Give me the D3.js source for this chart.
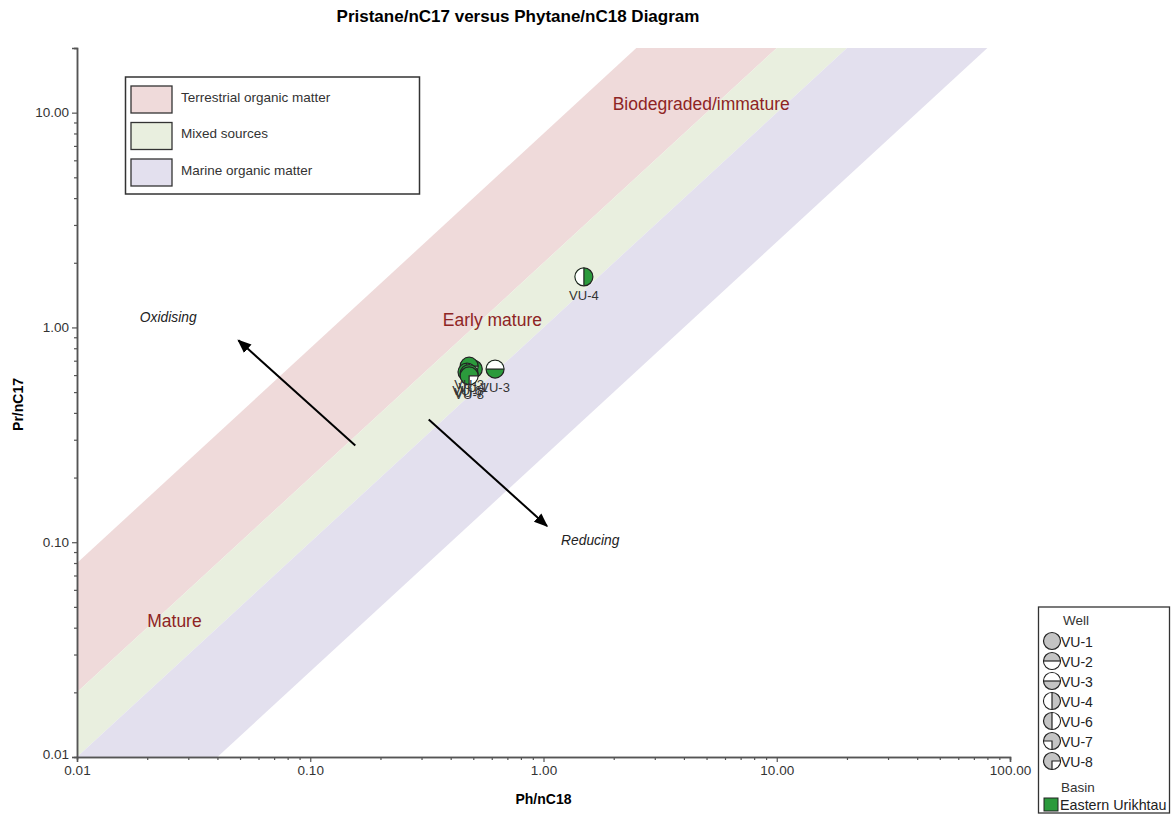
<!DOCTYPE html>
<html>
<head>
<meta charset="utf-8">
<script src="https://cdn.jsdelivr.net/npm/d3@7"></script>
<style>
  body { margin: 0; background: #fff; }
  svg text { font-family: Arial, "Liberation Sans", sans-serif; }
</style>
</head>
<body>
<svg id="chart" width="1175" height="824"></svg>
<script>
// Source bands (Pr/nC17 = k * Ph/nC18 lines)
const bandNames = ["Terrestrial organic matter", "Mixed sources", "Marine organic matter"];
const bandLow = [2, 1, 0.25];
const bandHigh = [8, 2, 1];
const bandColors = ["#efdada", "#e9efdf", "#e3e0ee"];

// Samples
const wells = ["VU-1", "VU-2", "VU-3", "VU-4", "VU-6", "VU-7", "VU-8"];
const phNC18 = [0.50, 0.48, 0.62, 1.49, 0.47, 0.48, 0.48];
const prNC17 = [0.64, 0.66, 0.64, 1.72, 0.62, 0.61, 0.595];
const wellSymbols = ["full", "top", "bottom", "right", "left", "noBL", "noBR"];
const basinName = "Eastern Urikhtau";
const basinColor = "#2b9a3c";

// Tick labels
const xMajor = [0.01, 0.1, 1, 10, 100];
const yMajor = [0.01, 0.1, 1, 10];

// Region labels and arrows
const regionLabels = ["Biodegraded/immature", "Early mature", "Mature"];
const regionX = [1.98, 0.37, 0.02];
const regionY = [10.3, 1.02, 0.0403];
const arrowNames = ["Oxidising", "Reducing"];
const arrowFrom = [[0.156, 0.282], [0.322, 0.373]];
const arrowTo = [[0.0492, 0.871], [1.035, 0.119]];
const arrowTextX = [0.0186, 1.19];
const arrowTextY = [1.06, 0.097];

const svg = d3.select("#chart");
const margin = {top: 48, right: 165, bottom: 67, left: 77};
const width = +svg.attr("width"), height = +svg.attr("height");

const x = d3.scaleLog().domain([0.01, 100]).range([margin.left, width - margin.right]);
const y = d3.scaleLog().domain([0.01, 20]).range([height - margin.bottom, margin.top]);

svg.append("defs").append("clipPath").attr("id", "plotclip")
  .append("rect")
  .attr("x", margin.left).attr("y", margin.top)
  .attr("width", x(100) - margin.left).attr("height", y(0.01) - margin.top);

// bands
const bandG = svg.append("g").attr("clip-path", "url(#plotclip)");
const xs = x.domain();
bandNames.forEach((name, i) => {
  const pts = [
    [xs[0], bandHigh[i] * xs[0]], [xs[1], bandHigh[i] * xs[1]],
    [xs[1], bandLow[i] * xs[1]], [xs[0], bandLow[i] * xs[0]]
  ];
  bandG.append("path")
    .attr("d", d3.line().x(d => x(d[0])).y(d => y(d[1]))(pts) + "Z")
    .attr("fill", bandColors[i]);
});

// axes
function minorTicks(lo, hi) {
  const out = [];
  for (let p = Math.floor(Math.log10(lo)); p < Math.ceil(Math.log10(hi)); p++) {
    for (let m = 2; m <= 9; m++) {
      const v = m * Math.pow(10, p);
      if (v > lo && v <= hi) out.push(v);
    }
  }
  return out;
}
const fmt = d3.format(".2f");

const xAxisMinor = svg.append("g")
  .attr("transform", `translate(0,${y(0.01)})`)
  .call(d3.axisBottom(x).tickValues(minorTicks(0.01, 100)).tickSize(3).tickFormat(""));
const xAxis = svg.append("g")
  .attr("transform", `translate(0,${y(0.01)})`)
  .call(d3.axisBottom(x).tickValues(xMajor).tickSize(5).tickPadding(3).tickFormat(fmt));
const yAxisMinor = svg.append("g")
  .attr("transform", `translate(${x(0.01)},0)`)
  .call(d3.axisLeft(y).tickValues(minorTicks(0.01, 20)).tickSize(3).tickFormat(""));
const yAxis = svg.append("g")
  .attr("transform", `translate(${x(0.01)},0)`)
  .call(d3.axisLeft(y).tickValues(yMajor).tickSize(5).tickPadding(3).tickFormat(fmt));

[xAxis, yAxis, xAxisMinor, yAxisMinor].forEach(g => {
  g.select(".domain").attr("stroke", "#555").attr("stroke-width", 1.5);
  g.selectAll(".tick line").attr("stroke", "#555").attr("stroke-width", 1.2);
  g.selectAll(".tick text").attr("font-size", 13.5).attr("fill", "#333")
    .style("font-family", "Arial, 'Liberation Sans', sans-serif");
});
yAxis.selectAll(".tick text").filter(d => d === 0.01).attr("dy", "0.1em");

// title and axis titles
svg.append("text")
  .attr("x", 518).attr("y", 22)
  .attr("text-anchor", "middle")
  .attr("font-size", 17).attr("font-weight", "bold")
  .text("Pristane/nC17 versus Phytane/nC18 Diagram");

svg.append("text")
  .attr("x", x(1)).attr("y", 804)
  .attr("text-anchor", "middle")
  .attr("font-size", 14).attr("font-weight", "bold")
  .text("Ph/nC18");

svg.append("text")
  .attr("transform", `translate(23,${(y(0.01) + y(20)) / 2 + 2}) rotate(-90)`)
  .attr("text-anchor", "middle")
  .attr("font-size", 14).attr("font-weight", "bold")
  .text("Pr/nC17");

// region labels
regionLabels.forEach((t, i) => {
  svg.append("text")
    .attr("x", x(regionX[i])).attr("y", y(regionY[i]))
    .attr("font-size", 17.5).attr("fill", "#8e2424")
    .text(t);
});

// arrows
const defs = svg.select("defs");
defs.append("marker")
  .attr("id", "head")
  .attr("viewBox", "0 0 10 10")
  .attr("refX", 9).attr("refY", 5)
  .attr("markerWidth", 7).attr("markerHeight", 7)
  .attr("markerUnits", "strokeWidth")
  .attr("orient", "auto")
  .append("path").attr("d", "M0,1 L10,5 L0,9 Z").attr("fill", "#000");

arrowNames.forEach((t, i) => {
  svg.append("line")
    .attr("x1", x(arrowFrom[i][0])).attr("y1", y(arrowFrom[i][1]))
    .attr("x2", x(arrowTo[i][0])).attr("y2", y(arrowTo[i][1]))
    .attr("stroke", "#000").attr("stroke-width", 2)
    .attr("marker-end", "url(#head)");
  svg.append("text")
    .attr("x", x(arrowTextX[i])).attr("y", y(arrowTextY[i]))
    .attr("font-size", 13.8).attr("font-style", "italic").attr("fill", "#222")
    .text(t);
});

// well symbols: circle with a white portion (d3.arc angles: 0 = 12 o'clock, clockwise)
function drawSymbol(g, cx, cy, r, kind, fill) {
  g.append("circle").attr("cx", cx).attr("cy", cy).attr("r", r)
    .attr("fill", fill).attr("stroke", "#222").attr("stroke-width", 1.2);
  const arc = d3.arc().innerRadius(0).outerRadius(r - 0.6);
  const white = {
    top: [Math.PI / 2, Math.PI * 1.5],      // bottom half white
    bottom: [-Math.PI / 2, Math.PI / 2],    // top half white
    right: [Math.PI, Math.PI * 2],          // left half white
    left: [0, Math.PI],                     // right half white
    noBL: [Math.PI, Math.PI * 1.5],         // bottom-left quarter white
    noBR: [Math.PI / 2, Math.PI]            // bottom-right quarter white
  }[kind];
  if (white) {
    g.append("path")
      .attr("transform", `translate(${cx},${cy})`)
      .attr("d", arc({startAngle: white[0], endAngle: white[1]}))
      .attr("fill", "#fff");
    if (kind === "top" || kind === "bottom") {
      g.append("line").attr("x1", cx - r).attr("x2", cx + r).attr("y1", cy).attr("y2", cy)
        .attr("stroke", "#222").attr("stroke-width", 1.2);
    } else if (kind === "left" || kind === "right") {
      g.append("line").attr("x1", cx).attr("x2", cx).attr("y1", cy - r).attr("y2", cy + r)
        .attr("stroke", "#222").attr("stroke-width", 1.2);
    } else {
      const sx = kind === "noBL" ? -r : r;
      g.append("path")
        .attr("d", `M${cx + sx},${cy} L${cx},${cy} L${cx},${cy + r}`)
        .attr("fill", "none").attr("stroke", "#222").attr("stroke-width", 1.2);
    }
  }
}

// points
const pts = svg.append("g");
wells.forEach((w, i) => {
  drawSymbol(pts, x(phNC18[i]), y(prNC17[i]), 9, wellSymbols[i], basinColor);
});
wells.forEach((w, i) => {
  pts.append("text")
    .attr("x", x(phNC18[i])).attr("y", y(prNC17[i]) + 23)
    .attr("text-anchor", "middle")
    .attr("font-size", 13).attr("fill", "#333")
    .text(w);
});

// source legend
const leg = svg.append("g");
leg.append("rect").attr("x", 125.5).attr("y", 77).attr("width", 294).attr("height", 117)
  .attr("fill", "#fff").attr("stroke", "#333").attr("stroke-width", 1.5);
bandNames.forEach((name, i) => {
  const yy = 86 + i * 36.5;
  leg.append("rect").attr("x", 131).attr("y", yy).attr("width", 41).attr("height", 27)
    .attr("fill", bandColors[i]).attr("stroke", "#333").attr("stroke-width", 1.3);
  leg.append("text").attr("x", 181).attr("y", yy + 11).attr("dy", "0.35em")
    .attr("font-size", 13.5).attr("fill", "#333").text(name);
});

// well legend
const wl = svg.append("g");
wl.append("rect").attr("x", 1038.5).attr("y", 607).attr("width", 131).attr("height", 206)
  .attr("fill", "#fff").attr("stroke", "#333").attr("stroke-width", 1.3);
wl.append("text").attr("x", 1063).attr("y", 620).attr("dy", "0.35em")
  .attr("font-size", 13.5).attr("fill", "#333").text("Well");
wells.forEach((w, i) => {
  const cy = 641 + i * 20;
  drawSymbol(wl, 1052, cy, 8.5, wellSymbols[i], "#c4c4c4");
  wl.append("text").attr("x", 1061).attr("y", cy + 1).attr("dy", "0.35em")
    .attr("font-size", 14).attr("fill", "#222").text(w);
});
wl.append("text").attr("x", 1061).attr("y", 787).attr("dy", "0.35em")
  .attr("font-size", 13.5).attr("fill", "#333").text("Basin");
wl.append("rect").attr("x", 1044).attr("y", 798).attr("width", 14).attr("height", 13)
  .attr("fill", basinColor).attr("stroke", "#222").attr("stroke-width", 1);
wl.append("text").attr("x", 1060).attr("y", 805).attr("dy", "0.35em")
  .attr("font-size", 14.3).attr("fill", "#222").text(basinName);
</script>
</body>
</html>
